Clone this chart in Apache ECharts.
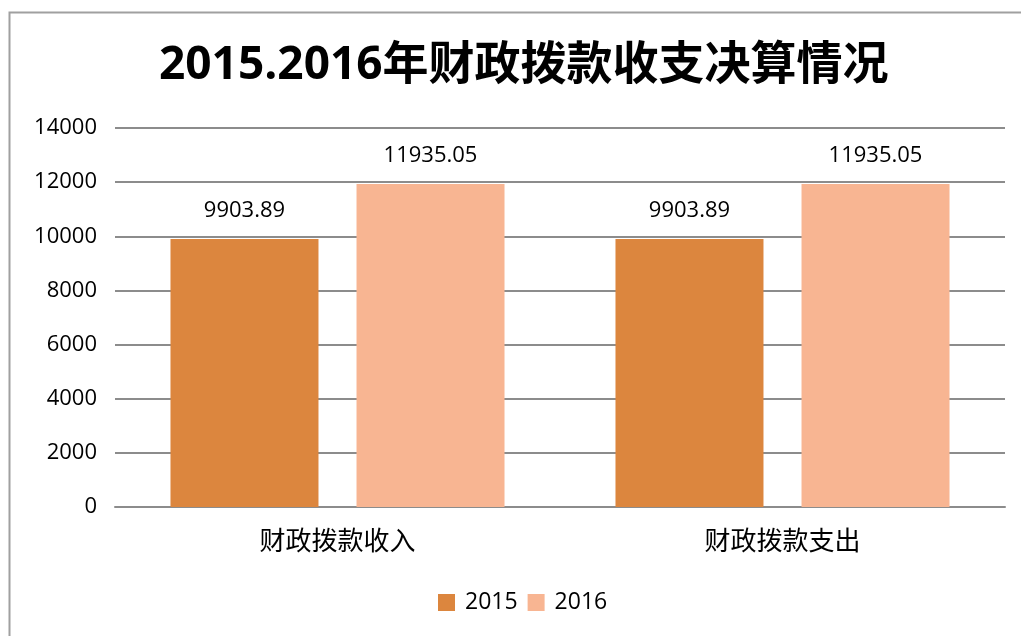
<!DOCTYPE html>
<html>
<head>
<meta charset="utf-8">
<script src="https://cdn.jsdelivr.net/npm/echarts@6/dist/echarts.min.js"></script>
<style>
  html, body { margin: 0; padding: 0; background: #fff; }
  #main { width: 1021px; height: 636px; }
</style>
</head>
<body>
<div id="main"></div>
<script>
const categories = ['财政拨款收入', '财政拨款支出']
const values2015 = [9903.89, 9903.89]
const values2016 = [11935.05, 11935.05]
const yTicks = [0, 2000, 4000, 6000, 8000, 10000, 12000, 14000]

const chart = echarts.init(document.getElementById('main'))
const labelStyle = {
  show: true,
  position: 'top',
  distance: 17,
  color: '#000',
  fontSize: 22,
  fontFamily: '"Open Sans", "Noto Sans", sans-serif'
}
const option = {
  animation: false,
  backgroundColor: '#fff',
  title: {
    text: '2015.2016年财政拨款收支决算情况',
    left: 154,
    top: 38,
    textStyle: {
      fontSize: 46,
      fontWeight: 'bold',
      color: '#000',
      fontFamily: '"Open Sans", "Noto Sans CJK SC", sans-serif'
    }
  },
  graphic: [{
    type: 'rect',
    shape: { x: 9.5, y: 12.5, width: 1100, height: 700 },
    style: { fill: 'none', stroke: '#a0a0a0', lineWidth: 2 },
    silent: true
  }],
  legend: {
    bottom: 17,
    left: 433,
    itemWidth: 17,
    itemHeight: 17,
    itemGap: 10,
    icon: 'rect',
    textStyle: {
      fontSize: 23,
      color: '#000',
      padding: [0, 0, 0, 5],
      fontFamily: '"Open Sans", sans-serif'
    },
    data: ['2015', '2016']
  },
  grid: { left: 115, right: 16, top: 128, bottom: 129 },
  xAxis: {
    type: 'category',
    data: categories,
    axisLine: { lineStyle: { color: '#8c8c8c', width: 2 } },
    axisTick: { show: false },
    axisLabel: {
      fontSize: 26,
      color: '#000',
      margin: 20,
      fontFamily: '"Noto Sans CJK SC", sans-serif'
    }
  },
  yAxis: {
    type: 'value',
    min: yTicks[0],
    max: yTicks[yTicks.length - 1],
    interval: 2000,
    axisLine: { show: false },
    axisTick: { show: false },
    axisLabel: {
      fontSize: 22,
      color: '#000',
      margin: 18,
      formatter: v => String(v),
      fontFamily: '"Open Sans", sans-serif'
    },
    splitLine: { lineStyle: { color: '#8c8c8c', width: 2 } }
  },
  series: [
    {
      name: '2015',
      type: 'bar',
      data: values2015,
      barWidth: 148,
      barGap: '25.7%',
      itemStyle: { color: '#dc863e' },
      label: labelStyle
    },
    {
      name: '2016',
      type: 'bar',
      data: values2016,
      barWidth: 148,
      itemStyle: { color: '#f8b592' },
      label: labelStyle
    }
  ]
}
chart.setOption(option)
window.addEventListener('resize', () => chart.resize())
</script>
</body>
</html>
